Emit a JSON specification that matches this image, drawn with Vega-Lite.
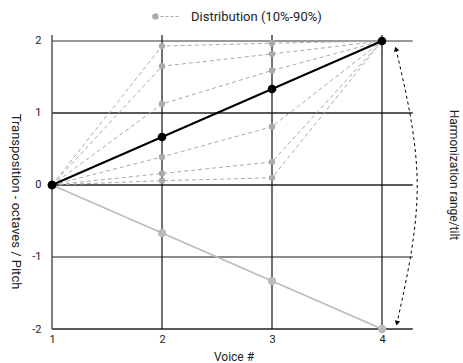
{
  "$schema": "https://vega.github.io/schema/vega-lite/v6.json",
  "width": 363,
  "height": 294,
  "autosize": "none",
  "padding": {"left": 52, "top": 35, "right": 48, "bottom": 34},
  "background": "white",
  "config": {
    "font": "Roboto",
    "view": {"stroke": null},
    "axis": {"labelFont": "Roboto", "titleFont": "Roboto", "labelColor": "#222", "titleColor": "#222", "labelFontSize": 11, "titleFontSize": 12, "titleFontWeight": "normal", "domain": false, "ticks": false, "grid": false}
  },
  "datasets": {
    "hgrid": [
      {"y": 2, "tone": "light"},
      {"y": 1, "tone": "dark"},
      {"y": 0, "tone": "dark"},
      {"y": -1, "tone": "mid"},
      {"y": -2, "tone": "dark"}
    ],
    "vgrid": [
      {"x": 1, "tone": "axis"},
      {"x": 2, "tone": "dark"},
      {"x": 3, "tone": "dark"},
      {"x": 4, "tone": "dark"}
    ],
    "dist": [
      {"s": "p90", "x": 1, "y": 0}, {"s": "p90", "x": 2, "y": 1.93}, {"s": "p90", "x": 3, "y": 1.97}, {"s": "p90", "x": 4, "y": 2},
      {"s": "p75", "x": 1, "y": 0}, {"s": "p75", "x": 2, "y": 1.65}, {"s": "p75", "x": 3, "y": 1.82}, {"s": "p75", "x": 4, "y": 2},
      {"s": "p60", "x": 1, "y": 0}, {"s": "p60", "x": 2, "y": 1.125}, {"s": "p60", "x": 3, "y": 1.59}, {"s": "p60", "x": 4, "y": 2},
      {"s": "p40", "x": 1, "y": 0}, {"s": "p40", "x": 2, "y": 0.39}, {"s": "p40", "x": 3, "y": 0.81}, {"s": "p40", "x": 4, "y": 2},
      {"s": "p25", "x": 1, "y": 0}, {"s": "p25", "x": 2, "y": 0.16}, {"s": "p25", "x": 3, "y": 0.32}, {"s": "p25", "x": 4, "y": 2},
      {"s": "p10", "x": 1, "y": 0}, {"s": "p10", "x": 2, "y": 0.06}, {"s": "p10", "x": 3, "y": 0.1}, {"s": "p10", "x": 4, "y": 2}
    ],
    "main": [
      {"x": 1, "y": 0}, {"x": 2, "y": 0.667}, {"x": 3, "y": 1.333}, {"x": 4, "y": 2}
    ],
    "tilt": [
      {"x": 1, "y": 0}, {"x": 2, "y": -0.667}, {"x": 3, "y": -1.333}, {"x": 4, "y": -2}
    ],
    "arc": [
      {"x": 4.127, "y": 1.89, "o": 1},
      {"x": 4.32, "y": 0, "o": 2},
      {"x": 4.136, "y": -1.92, "o": 3}
    ],
    "heads": [
      {"x": 4.127, "y": 1.89, "end": "top"},
      {"x": 4.136, "y": -1.92, "end": "bottom"}
    ],
    "note": [
      {"x": 4.65, "y": 0.139, "label": "Harmonization range/tilt"}
    ]
  },
  "layer": [
    {
      "data": {"name": "hgrid"},
      "transform": [{"filter": "datum.tone === 'light'"}],
      "mark": {"type": "rule", "color": "#999", "strokeWidth": 2},
      "encoding": {
        "y": {
          "field": "y", "type": "quantitative",
          "scale": {"domain": [-2, 2.0833], "nice": false, "zero": false},
          "axis": {"title": "Transposition - octaves / Pitch", "values": [-2, -1, 0, 1, 2], "labelExpr": "toString(datum.value)", "labelPadding": 11, "titleFontSize": 13, "titleAngle": 90, "titleX": -37, "titleY": 166, "titleAlign": "center", "titleBaseline": "middle"}
        },
        "x": {
          "datum": 1, "type": "quantitative",
          "scale": {"domain": [1, 4.3], "nice": false, "zero": false},
          "axis": {"title": "Voice #", "values": [1, 2, 3, 4], "format": "d", "labelPadding": 4, "titlePadding": 7, "labelFlush": false}
        },
        "x2": {"datum": 4.28}
      }
    },
    {
      "data": {"name": "hgrid"},
      "transform": [{"filter": "datum.tone === 'mid'"}],
      "mark": {"type": "rule", "color": "#666", "strokeWidth": 1.5},
      "encoding": {
        "y": {"field": "y", "type": "quantitative"},
        "x": {"datum": 1, "type": "quantitative"},
        "x2": {"datum": 4.28}
      }
    },
    {
      "data": {"name": "hgrid"},
      "transform": [{"filter": "datum.tone === 'dark'"}],
      "mark": {"type": "rule", "color": "#222", "strokeWidth": 1.3},
      "encoding": {
        "y": {"field": "y", "type": "quantitative"},
        "x": {"datum": 1, "type": "quantitative"},
        "x2": {"datum": 4.28}
      }
    },
    {
      "data": {"name": "vgrid"},
      "transform": [{"filter": "datum.tone === 'axis'"}],
      "mark": {"type": "rule", "color": "#555", "strokeWidth": 1.5},
      "encoding": {
        "x": {"field": "x", "type": "quantitative"},
        "y": {"datum": -2, "type": "quantitative"},
        "y2": {"datum": 2.0833}
      }
    },
    {
      "data": {"name": "vgrid"},
      "transform": [{"filter": "datum.tone === 'dark'"}],
      "mark": {"type": "rule", "color": "#111", "strokeWidth": 1.2},
      "encoding": {
        "x": {"field": "x", "type": "quantitative"},
        "y": {"datum": -2, "type": "quantitative"},
        "y2": {"datum": 2.0833}
      }
    },
    {
      "data": {"name": "dist"},
      "mark": {"type": "line", "strokeWidth": 1, "strokeDash": [4, 3]},
      "encoding": {
        "x": {"field": "x", "type": "quantitative"},
        "y": {"field": "y", "type": "quantitative"},
        "detail": {"field": "s"},
        "color": {
          "datum": "Distribution (10%-90%)",
          "type": "nominal",
          "scale": {"range": ["#aaaaaa"]},
          "legend": {
            "title": null,
            "orient": "none",
            "legendX": 100,
            "legendY": -33,
            "symbolType": "M-1,0 A0.214,0.214 0 1 1 -0.572,0 A0.214,0.214 0 1 1 -1,0 Z M-0.43,0 L1,0",
            "symbolSize": 784,
            "symbolStrokeWidth": 1,
            "symbolStrokeColor": "#aaaaaa",
            "symbolFillColor": "#aaaaaa",
            "symbolDash": [3, 2],
            "labelOffset": 10,
            "labelFont": "Roboto",
            "labelFontSize": 13,
            "labelColor": "#222"
          }
        }
      }
    },
    {
      "data": {"name": "dist"},
      "transform": [{"filter": "datum.x === 2 || datum.x === 3"}],
      "mark": {"type": "point", "filled": true, "color": "#aaaaaa", "opacity": 1, "size": 40},
      "encoding": {
        "x": {"field": "x", "type": "quantitative"},
        "y": {"field": "y", "type": "quantitative"}
      }
    },
    {
      "data": {"name": "tilt"},
      "mark": {"type": "line", "color": "#bbbbbb", "strokeWidth": 1.5},
      "encoding": {
        "x": {"field": "x", "type": "quantitative"},
        "y": {"field": "y", "type": "quantitative"}
      }
    },
    {
      "data": {"name": "tilt"},
      "transform": [{"filter": "datum.x > 1"}],
      "mark": {"type": "point", "filled": true, "color": "#bbbbbb", "opacity": 1, "size": 70},
      "encoding": {
        "x": {"field": "x", "type": "quantitative"},
        "y": {"field": "y", "type": "quantitative"}
      }
    },
    {
      "data": {"name": "main"},
      "mark": {"type": "line", "color": "#000", "strokeWidth": 2},
      "encoding": {
        "x": {"field": "x", "type": "quantitative"},
        "y": {"field": "y", "type": "quantitative"}
      }
    },
    {
      "data": {"name": "main"},
      "mark": {"type": "point", "filled": true, "color": "#000", "opacity": 1, "size": 75},
      "encoding": {
        "x": {"field": "x", "type": "quantitative"},
        "y": {"field": "y", "type": "quantitative"}
      }
    },
    {
      "data": {"name": "tilt"},
      "transform": [{"filter": "datum.x === 1"}],
      "mark": {"type": "point", "filled": true, "color": "#000", "opacity": 1, "size": 75},
      "encoding": {
        "x": {"field": "x", "type": "quantitative"},
        "y": {"field": "y", "type": "quantitative"}
      }
    },
    {
      "data": {"name": "arc"},
      "mark": {"type": "line", "color": "#000", "strokeWidth": 1, "strokeDash": [3, 3], "interpolate": "natural"},
      "encoding": {
        "x": {"field": "x", "type": "quantitative"},
        "y": {"field": "y", "type": "quantitative"},
        "order": {"field": "o"}
      }
    },
    {
      "data": {"name": "heads"},
      "transform": [{"filter": "datum.end === 'top'"}],
      "mark": {"type": "point", "shape": "triangle-up", "filled": true, "color": "#000", "opacity": 1, "size": 30, "angle": 344},
      "encoding": {
        "x": {"field": "x", "type": "quantitative"},
        "y": {"field": "y", "type": "quantitative"}
      }
    },
    {
      "data": {"name": "heads"},
      "transform": [{"filter": "datum.end === 'bottom'"}],
      "mark": {"type": "point", "shape": "triangle-down", "filled": true, "color": "#000", "opacity": 1, "size": 30, "angle": 14},
      "encoding": {
        "x": {"field": "x", "type": "quantitative"},
        "y": {"field": "y", "type": "quantitative"}
      }
    },
    {
      "data": {"name": "note"},
      "mark": {"type": "text", "angle": 90, "font": "Roboto", "fontSize": 12, "color": "#222", "align": "center", "baseline": "middle"},
      "encoding": {
        "x": {"field": "x", "type": "quantitative"},
        "y": {"field": "y", "type": "quantitative"},
        "text": {"field": "label"}
      }
    }
  ]
}
